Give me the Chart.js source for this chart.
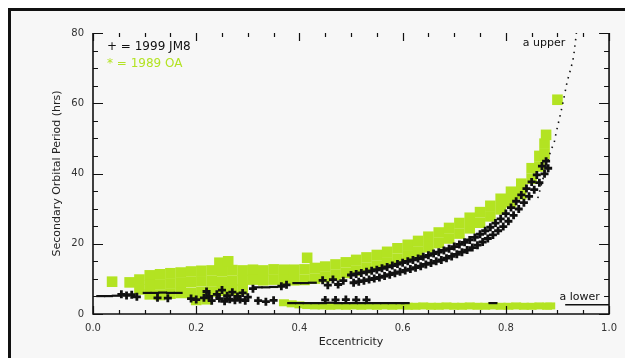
<!DOCTYPE html>
<html>
<head>
<meta charset="utf-8">
<style>
  html, body { margin: 0; padding: 0; background: #fff; }
  #frame {
    position: absolute; left: 8px; top: 8px; width: 617px; height: 350px;
    box-sizing: border-box; border-left: 3px solid #111; border-top: 3px solid #111;
    background: #f7f7f7;
  }
  #wrap { position: absolute; left: 0; top: 0; width: 625px; height: 358px; }
</style>
<script src="https://cdn.jsdelivr.net/npm/chart.js@4.4.1/dist/chart.umd.min.js"></script>
</head>
<body>
<div id="frame"></div>
<div id="wrap"><canvas id="orbitChart"></canvas></div>
<script>
// series names and legend marks
const seriesNames = ['1999 JM8', '1989 OA'];
const seriesMarks = ['+', '*'];

// 1999 JM8 : short horizontal runs [eccentricity, period]
const jm8Runs = [
  [0.015,5.1],[0.03,5.1],[0.045,5.2],
  [0.105,6.0],[0.12,6.0],[0.135,6.1],[0.15,6.0],[0.165,6.0],
  [0.32,7.6],[0.335,7.6],[0.35,7.7],
  [0.395,8.8],[0.41,8.8],[0.425,8.9],
  [0.385,3.1],[0.40,3.1],[0.415,3.1],[0.43,3.1],[0.445,3.1],[0.46,3.2],[0.475,3.1],[0.49,3.1],
  [0.505,3.1],[0.52,3.1],[0.535,3.1],[0.55,3.1],[0.565,3.1],[0.58,3.1],[0.595,3.1],[0.605,3.1],
  [0.775,3.1]
];

// 1999 JM8 : low-eccentricity cloud
const jm8Cloud = [
  [0.055,5.6],[0.065,5.3],[0.075,5.5],[0.085,4.9],[0.125,4.6],[0.145,4.5],
  [0.19,4.4],[0.20,4.1],[0.215,4.6],[0.22,6.4],[0.225,5.0],[0.23,3.8],[0.24,5.6],
  [0.245,4.4],[0.25,6.8],[0.255,3.6],[0.26,5.2],[0.265,4.2],[0.27,6.2],[0.275,3.9],
  [0.28,5.0],[0.285,4.1],[0.29,6.0],[0.295,3.8],[0.30,4.8],[0.31,7.2],[0.32,3.8],
  [0.335,3.5],[0.35,3.9],[0.365,7.9],[0.375,8.3],
  [0.445,9.6],[0.455,8.2],[0.465,9.8],[0.475,8.4],[0.485,9.5],
  [0.45,4.0],[0.47,4.0],[0.49,4.1],[0.51,4.0],[0.53,4.0]
];

// 1999 JM8 : rising branch
const jm8Branch = [
  [0.50,11.1],[0.505,8.9],[0.51,11.4],[0.515,9.2],[0.52,11.7],[0.525,9.5],[0.53,12.0],[0.535,9.8],
  [0.54,12.3],[0.545,10.1],[0.55,12.6],[0.555,10.4],[0.56,13.0],[0.565,10.8],[0.57,13.4],[0.575,11.2],
  [0.58,13.8],[0.585,11.6],[0.59,14.2],[0.595,12.0],[0.60,14.6],[0.605,12.4],[0.61,15.0],[0.615,12.8],
  [0.62,15.4],[0.625,13.2],[0.63,15.8],[0.635,13.6],[0.64,16.3],[0.645,14.1],[0.65,16.7],[0.655,14.5],
  [0.66,17.2],[0.665,15.0],[0.67,17.6],[0.675,15.4],[0.68,18.1],[0.685,15.9],[0.69,18.6],[0.695,16.4],
  [0.70,19.2],[0.705,17.0],[0.71,19.8],[0.715,17.6],[0.72,20.4],[0.725,18.2],[0.73,21.1],[0.735,18.9],
  [0.74,21.8],[0.745,19.6],[0.75,22.7],[0.755,20.5],[0.76,23.7],[0.765,21.5],[0.77,24.7],[0.775,22.5],
  [0.78,25.9],[0.785,23.7],[0.79,27.1],[0.795,24.9],[0.80,28.6],[0.805,26.4],[0.81,30.3],[0.815,28.1],
  [0.82,32.1],[0.825,29.9],[0.83,33.9],[0.835,31.7],[0.84,35.7],[0.845,33.5],[0.85,37.6],[0.855,35.4],
  [0.86,39.6],[0.865,37.4],[0.87,42.1],[0.875,39.9],[0.878,43.5],[0.882,41.5]
];

// 1989 OA : low-eccentricity cloud and rising branch
const oaCloud = [
  [0.037,9.2],[0.071,9.0],
  [0.09,9.8],[0.09,7.0],
  [0.11,11.0],[0.11,8.2],[0.11,5.6],[0.13,11.3],[0.13,8.4],[0.13,5.4],
  [0.15,11.6],[0.15,8.7],[0.15,5.8],[0.17,11.8],[0.17,8.9],[0.17,6.0],
  [0.19,12.1],[0.19,9.1],[0.19,6.0],[0.21,12.3],[0.21,9.3],[0.21,6.2],
  [0.23,12.4],[0.23,9.4],[0.23,6.4],[0.25,12.2],[0.25,9.2],[0.25,6.6],
  [0.27,12.5],[0.27,9.5],[0.27,6.8],[0.29,12.4],[0.29,9.6],[0.29,7.0],
  [0.245,14.6],[0.262,15.0],[0.20,4.0],[0.22,4.2],
  [0.31,12.6],[0.31,9.8],[0.33,12.4],[0.33,9.6],[0.35,12.7],[0.35,9.8],
  [0.37,12.6],[0.37,9.7],[0.39,12.6],[0.39,9.6],[0.415,16.0]
];

const oaBranch = [
  [0.41,12.7],[0.41,9.7],[0.43,13.1],[0.43,10.1],[0.45,13.5],[0.45,10.5],[0.47,14.1],[0.47,11.1],
  [0.49,14.7],[0.49,11.7],[0.51,15.4],[0.51,12.4],[0.53,16.1],[0.53,13.1],[0.55,16.8],[0.55,13.8],
  [0.57,17.7],[0.57,14.7],[0.59,18.7],[0.59,15.7],[0.61,19.7],[0.61,16.7],[0.63,20.8],[0.63,17.8],
  [0.65,22.0],[0.65,19.0],[0.67,23.2],[0.67,20.2],[0.69,24.5],[0.69,21.5],[0.71,25.9],[0.71,22.9],
  [0.73,27.4],[0.73,24.4],[0.75,29.0],[0.75,26.0],[0.77,30.8],[0.77,27.8],[0.79,32.8],[0.79,29.8],
  [0.81,34.8],[0.81,31.8],[0.83,37.1],[0.83,34.1],[0.85,41.5],[0.85,38.5],[0.865,45.0],[0.865,42.0],
  [0.875,48.5],[0.875,45.5],[0.878,51.0],[0.90,61.0]
];

// 1989 OA : flat low-period band
const oaLowBand = [
  [0.37,3.2],[0.385,2.9],[0.40,2.6],[0.415,2.4],[0.43,2.3],[0.445,2.3],[0.46,2.2],[0.475,2.3],
  [0.49,2.2],[0.505,2.3],[0.52,2.2],[0.535,2.3],[0.55,2.2],[0.565,2.3],[0.58,2.2],[0.595,2.3],
  [0.61,2.2],[0.625,2.2],[0.64,2.3],[0.655,2.2],[0.67,2.2],[0.685,2.3],[0.70,2.2],[0.715,2.2],
  [0.73,2.3],[0.745,2.2],[0.76,2.2],[0.775,2.3],[0.79,2.2],[0.805,2.2],[0.82,2.3],[0.835,2.2],
  [0.85,2.2],[0.865,2.3],[0.88,2.2],[0.886,2.3]
];

// upper limit curve (dotted) and lower limit line
const upperLimit = [
  [0.862,33.0],[0.872,38.5],[0.881,43.5],[0.886,46.0],[0.894,49.0],[0.898,52.0],[0.906,57.0],
  [0.913,61.8],[0.919,66.3],[0.923,68.3],[0.927,70.5],[0.931,73.0],[0.934,76.5],[0.936,79.0],[0.938,82.0]
];
const lowerLimit = [[0.915,2.6],[1.0,2.6]];

const limitLabels = ['a upper', 'a lower'];

const BLACK = '#111111';
const GREEN = '#b3e322';
const FONT = '"DejaVu Sans", sans-serif';

const plotDecor = {
  id: 'plotDecor',
  afterDatasetsDraw(chart) {
    const {ctx, chartArea: a, scales: {x, y}} = chart;
    ctx.save();
    ctx.strokeStyle = BLACK;
    ctx.lineWidth = 1.6;
    ctx.beginPath();
    ctx.moveTo(a.left, a.top); ctx.lineTo(a.left, a.bottom);
    ctx.lineTo(a.right, a.bottom); ctx.lineTo(a.right, a.top);
    ctx.stroke();

    // inward tick marks on all four sides
    ctx.lineWidth = 1.2;
    ctx.beginPath();
    for (let v = 0; v <= 80; v += 5) {
      const py = Math.round(y.getPixelForValue(v)) + 0.5;
      const len = v % 20 === 0 ? 10 : 5;
      ctx.moveTo(a.left, py); ctx.lineTo(a.left + len, py);
      ctx.moveTo(a.right, py); ctx.lineTo(a.right - len, py);
    }
    for (let i = 0; i <= 20; i++) {
      const px = Math.round(x.getPixelForValue(i * 0.05)) + 0.5;
      const len = i % 4 === 0 ? 8 : 4;
      ctx.moveTo(px, a.bottom); ctx.lineTo(px, a.bottom - len);
      ctx.moveTo(px, a.top); ctx.lineTo(px, a.top + len);
    }
    ctx.stroke();

    // legend
    ctx.font = '12px ' + FONT;
    ctx.textBaseline = 'middle';
    ctx.textAlign = 'left';
    [BLACK, GREEN].forEach((c, i) => {
      ctx.fillStyle = c;
      ctx.fillText(seriesMarks[i] + ' = ' + seriesNames[i], a.left + 14, a.top + 14 + i * 17);
    });

    // limit labels
    ctx.fillStyle = BLACK;
    ctx.font = '11px ' + FONT;
    ctx.textAlign = 'right';
    ctx.fillText(limitLabels[0], x.getPixelForValue(0.915), y.getPixelForValue(77));
    ctx.fillText(limitLabels[1], x.getPixelForValue(0.982), y.getPixelForValue(4.8));
    ctx.restore();
  }
};

new Chart(document.getElementById('orbitChart'), {
  type: 'scatter',
  data: {
    datasets: [
      { data: upperLimit, showLine: true, borderColor: BLACK, borderWidth: 1.6,
        borderDash: [1.5, 5], pointRadius: 0, order: 0 },
      { data: lowerLimit, showLine: true, borderColor: BLACK, borderWidth: 1.5,
        pointRadius: 0, order: 0 },
      { label: seriesNames[0], data: jm8Runs, pointStyle: 'line', pointRadius: 4.5,
        borderColor: BLACK, borderWidth: 2.2, order: 1 },
      { label: seriesNames[0], data: jm8Cloud.concat(jm8Branch), pointStyle: 'cross', pointRadius: 4,
        borderColor: BLACK, borderWidth: 2.8, order: 1 },
      { label: seriesNames[1], data: oaLowBand, pointStyle: 'line', pointRadius: 5,
        borderColor: GREEN, borderWidth: 7, order: 2 },
      { label: seriesNames[1], data: oaCloud.concat(oaBranch), pointStyle: 'rect', pointRadius: 7.5,
        borderColor: GREEN, backgroundColor: GREEN, borderWidth: 0, order: 2 }
    ]
  },
  options: {
    responsive: true,
    maintainAspectRatio: false,
    animation: false,
    events: [],
    layout: { padding: { top: 33, right: 13, left: 0, bottom: 0 } },
    plugins: { legend: { display: false }, tooltip: { enabled: false } },
    scales: {
      x: {
        type: 'linear', min: 0, max: 1,
        grid: { display: false, drawTicks: false },
        border: { display: false },
        ticks: { stepSize: 0.2, padding: 8, color: '#333', font: { family: FONT, size: 10 },
                 callback: v => v.toFixed(1) },
        title: { display: true, text: 'Eccentricity', color: '#222',
                 font: { family: FONT, size: 11 }, padding: { top: 0, bottom: 9 } },
        afterFit: s => { s.height = 44; }
      },
      y: {
        type: 'linear', min: 0, max: 80,
        grid: { display: false, drawTicks: false },
        border: { display: false },
        ticks: { stepSize: 20, padding: 9, color: '#333', font: { family: FONT, size: 10 } },
        title: { display: true, text: 'Secondary Orbital Period (hrs)', color: '#222',
                 font: { family: FONT, size: 11 }, padding: { top: 51, bottom: 0 } },
        afterFit: s => { s.width = 93; }
      }
    }
  },
  plugins: [plotDecor]
});
</script>
</body>
</html>
